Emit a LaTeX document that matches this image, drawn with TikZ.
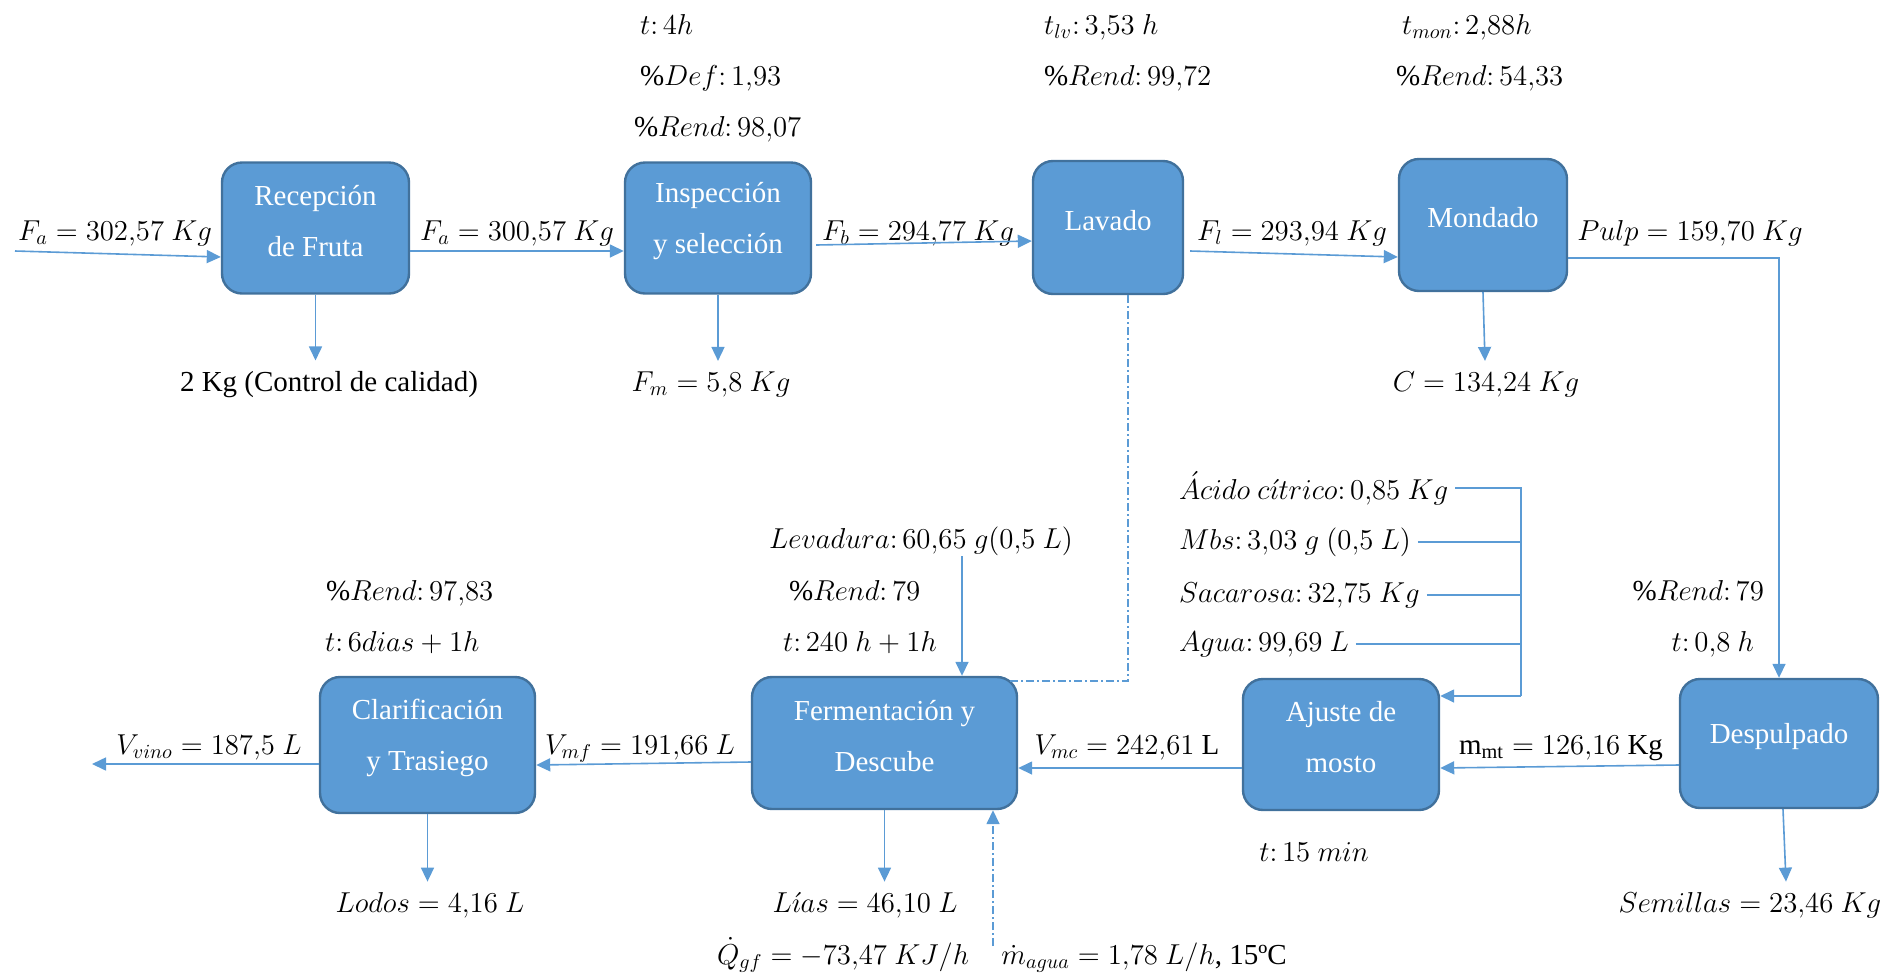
\documentclass[tikz,border=0pt]{standalone}
\usepackage{fontspec}
\setmainfont{Liberation Serif}
\usetikzlibrary{arrows.meta}
\definecolor{boxfill}{HTML}{5B9BD5}
\definecolor{boxline}{HTML}{41719C}
\definecolor{arrcol}{HTML}{5B9BD5}
\begin{document}
\begin{tikzpicture}[x=0.5pt,y=-0.5pt,
 every node/.style={font=\fontsize{14.5}{25.5}\selectfont},
 box/.style={draw=boxline, line width=1.2pt, fill=boxfill, rounded corners=10pt, inner sep=0pt},
 boxtxt/.style={text=white, align=center, yshift=3.5pt},
 lbl/.style={anchor=base, inner ysep=2pt, inner xsep=2pt},
 lblw/.style={anchor=base west, inner ysep=2pt},
 lble/.style={anchor=base east, inner ysep=2pt},
 flow/.style={draw=arrcol, line width=0.8pt},
 arr/.style={flow, -{Triangle[length=7pt,width=6.5pt]}},
 dd/.style={dash pattern=on 4pt off 1.5pt on 1pt off 1.5pt},
]
\useasboundingbox (0,0) rectangle (1902,976);

% process boxes
\node[box, minimum width=93.5pt, minimum height=65.5pt] (rec) at (315.5,228) {};
\node[boxtxt] (recT) at (rec.center) {Recepción\\de Fruta};
\node[box, minimum width=93pt, minimum height=65.5pt] (insp) at (718,228) {};
\node[boxtxt] (inspT) at (insp.center) {Inspección\\y selección};
\node[box, minimum width=75pt, minimum height=66.5pt] (lav) at (1108,227.5) {};
\node[boxtxt] (lavT) at (lav.center) {Lavado};
\node[box, minimum width=84pt, minimum height=66pt] (mon) at (1483,225) {};
\node[boxtxt] (monT) at (mon.center) {Mondado};
\node[box, minimum width=99pt, minimum height=64.5pt] (desp) at (1779,743.5) {};
\node[boxtxt] (despT) at (desp.center) {Despulpado};
\node[box, minimum width=98pt, minimum height=65.5pt] (aju) at (1341,744.5) {};
\node[boxtxt] (ajuT) at (aju.center) {Ajuste de\\mosto};
\node[box, minimum width=132.5pt, minimum height=66pt] (fer) at (884.5,743) {};
\node[boxtxt] (ferT) at (fer.center) {Fermentación y\\Descube};
\node[box, minimum width=107.5pt, minimum height=68pt] (cla) at (427.5,745) {};
\node[boxtxt] (claT) at (cla.center) {Clarificación\\y Trasiego};

% flow labels, top row
\node[lbl] (fa1) at (115,240) {$F_a = 302{,}57\ Kg$};
\node[lbl] (fa2) at (517,240) {$F_a = 300{,}57\ Kg$};
\node[lbl] (fb) at (918,240) {$F_b = 294{,}77\ Kg$};
\node[lbl] (fl) at (1292,240) {$F_l = 293{,}94\ Kg$};
\node[lbl] (pulp) at (1690,240) {$Pulp = 159{,}70\ Kg$};
\node[lbl] (recL) at (329,391) {2 Kg (Control de calidad)};
\node[lbl] (fmL) at (711,391) {$F_m = 5{,}8\ Kg$};
\node[lbl] (cL) at (1486,391) {$C = 134{,}24\ Kg$};

% parameters, top row
\node[lblw] (p1) at (633,34) {$t\colon 4h$};
\node[lblw] (p2) at (633,85) {$\%Def\colon 1{,}93$};
\node[lblw] (p3) at (627,136) {$\%Rend\colon 98{,}07$};
\node[lblw] (p4) at (1037,34) {$t_{lv}\colon 3{,}53\ h$};
\node[lblw] (p5) at (1037,85) {$\%Rend\colon 99{,}72$};
\node[lblw] (p6) at (1395,34) {$t_{mon}\colon 2{,}88h$};
\node[lblw] (p7) at (1389,85) {$\%Rend\colon 54{,}33$};

% middle parameters
\node[lblw] (levL) at (762,548) {$Levadura\colon 60{,}65\ g(0{,}5\ L)$};
\node[lblw] (p8) at (782,600) {$\%Rend\colon 79$};
\node[lblw] (p9) at (776,651) {$t\colon 240\ h + 1h$};
\node[lblw] (p10) at (319,600) {$\%Rend\colon 97{,}83$};
\node[lblw] (p11) at (318,651) {$t\colon 6dias + 1h$};
\node[lblw] (acL) at (1172,499) {$\acute{A}cido\ c\acute{\imath}trico\colon 0{,}85\ Kg$};
\node[lblw] (mbsL) at (1172,549) {$Mbs\colon 3{,}03\ g\ (0{,}5\ L)$};
\node[lblw] (sacL) at (1172,602) {$Sacarosa\colon 32{,}75\ Kg$};
\node[lblw] (agL) at (1172,651) {$Agua\colon 99{,}69\ L$};
\node[lble] (p12) at (1771,600) {$\%Rend\colon 79$};
\node[lble] (p13) at (1761,651) {$t\colon 0{,}8\ h$};

% bottom row labels
\node[lbl] (mmt) at (1561,754) {$\mathrm{m}_{\mathrm{mt}} = 126{,}16\ \mathrm{Kg}$};
\node[lbl] (vmc) at (1127,754) {$V_{mc} = 242{,}61\ \mathrm{L}$};
\node[lbl] (p14) at (1314,861) {$t\colon 15\ min$};
\node[lbl] (vmf) at (640,754) {$V_{mf} = 191{,}66\ L$};
\node[lbl] (vvino) at (209,754) {$V_{vino} = 187{,}5\ L$};
\node[lbl] (lodL) at (430,912) {$Lodos = 4{,}16\ L$};
\node[lbl] (liaL) at (865,912) {$L\acute{\imath}as = 46{,}10\ L$};
\node[lbl] (semL) at (1750,912) {$Semillas = 23{,}46\ Kg$};
\node[lbl] (qL) at (843,964) {$\dot{Q}_{gf} = -73{,}47\ KJ/h$};
\node[lbl] (wL) at (1144,964) {$\dot{m}_{agua} = 1{,}78\ L/h$, 15ºC};

% free ends
\coordinate (in1) at (15,251);
\coordinate (out1) at (92,764);
\coordinate (lev) at (962,556);
\coordinate (wat) at (993,946);
\coordinate (ddc) at (1128,681);
\coordinate (mix) at (1521,696);

% top row flows
\draw[arr] (in1) -- ([yshift=-14.5pt]rec.west);
\draw[arr] ([yshift=-11.5pt]rec.east) -- ([yshift=-11.5pt]insp.west);
\draw[arr] ([yshift=-8.5pt,xshift=2pt]insp.east) -- ([yshift=-6.75pt]lav.west);
\draw[arr] ([yshift=-11.75pt,xshift=3pt]lav.east) -- ([yshift=-16pt]mon.west);
\draw[arr] ([yshift=-16.5pt]mon.east) -| (desp.north);
\draw[arr] (rec.south) -- ([yshift=3pt]rec.south |- recL.north);
\draw[arr] (insp.south) -- ([yshift=3pt]insp.south |- fmL.north);
\draw[arr] (mon.south) -- ([xshift=1pt,yshift=3pt]mon.south |- cL.north);

% dash-dot from Lavado to Fermentacion
\draw[flow, dd] ([xshift=10pt]lav.south) -- (ddc) -- ([xshift=-4pt]ddc -| fer.east);

% additions to must adjustment
\draw[flow] (acL.east) -| (mix);
\draw[flow] (mbsL.east) -- (mbsL.east -| mix);
\draw[flow] (sacL.east) -- (sacL.east -| mix);
\draw[flow] (agL.east) -- (agL.east -| mix);
\draw[arr] (mix) -- (mix -| aju.east);

% bottom row flows
\draw[arr] ([yshift=-10.75pt]desp.west) -- ([yshift=-11.75pt]aju.east);
\draw[arr] ([yshift=-11.75pt]aju.west) -- ([yshift=-12.5pt]fer.east);
\draw[arr] ([yshift=-9.5pt]fer.west) -- ([yshift=-10pt]cla.east);
\draw[arr] ([yshift=-9.5pt]cla.west) -- (out1);
\draw[arr] (lev) -- (lev |- fer.north);
\draw[arr] (cla.south) -- ([yshift=3pt]cla.south |- lodL.north);
\draw[arr] (fer.south) -- ([yshift=3pt]fer.south |- liaL.north);
\draw[arr] ([xshift=2pt]desp.south) -- ([xshift=3.5pt,yshift=3pt]desp.south |- semL.north);
\draw[arr, dd] (wat) -- (wat |- fer.south);
\end{tikzpicture}
\end{document}
